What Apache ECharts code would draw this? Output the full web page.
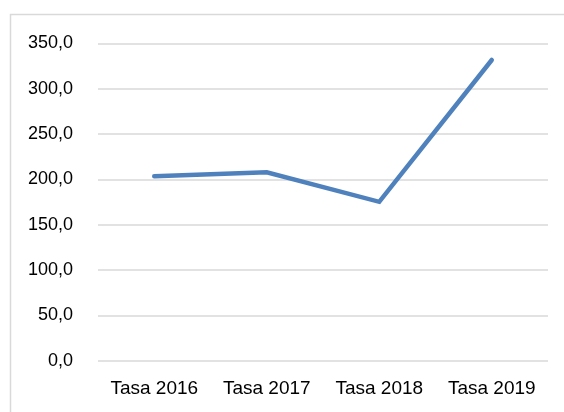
<!DOCTYPE html>
<html><head><meta charset="utf-8">
<script src="https://cdn.jsdelivr.net/npm/echarts@6/dist/echarts.min.js"></script>
<style>html,body{margin:0;padding:0;background:#fff}#c{width:564px;height:412px}</style>
</head><body><div id="c"></div>
<script>
var categories = ['Tasa 2016', 'Tasa 2017', 'Tasa 2018', 'Tasa 2019'];
var values = [203.5, 207.8, 175.2, 331.6];
var yTicks = { min: 0, max: 350, interval: 50 };

var chart = echarts.init(document.getElementById('c'), null, { renderer: 'canvas' });
var font = "'Liberation Sans', Arial, sans-serif";
chart.setOption({
  animation: false,
  backgroundColor: '#fff',
  graphic: [{
    type: 'rect', silent: true, z: -10,
    shape: { x: 10.5, y: 14.5, width: 600, height: 450 },
    style: { fill: 'none', stroke: '#d9d9d9', lineWidth: 1.5 }
  }],
  grid: { left: 98, right: 16, top: 43.3, bottom: 51.3 },
  xAxis: {
    type: 'category', data: categories, boundaryGap: true,
    axisLine: { show: false }, axisTick: { show: false },
    axisLabel: { color: '#000', fontFamily: font, fontSize: 19, margin: 19, interval: 0 }
  },
  yAxis: {
    type: 'value', min: yTicks.min, max: yTicks.max, interval: yTicks.interval,
    axisLine: { show: false }, axisTick: { show: false },
    splitLine: { lineStyle: { color: '#d9d9d9', width: 1.5 } },
    axisLabel: {
      color: '#000', fontFamily: font, fontSize: 18, margin: 25,
      formatter: function (v) { return v.toFixed(1).replace('.', ','); }
    }
  },
  series: [{
    type: 'line', data: values, showSymbol: false, symbol: 'none',
    lineStyle: { color: '#4f81bd', width: 4.5, cap: 'round', join: 'miter' }
  }]
});
</script></body></html>
